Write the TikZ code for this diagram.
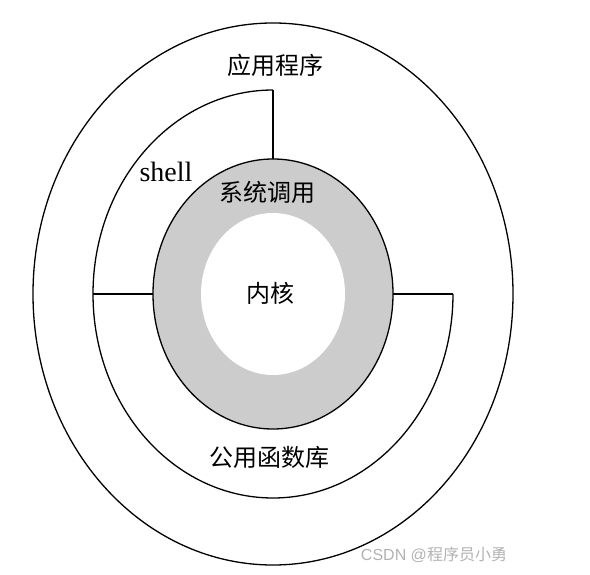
\documentclass[tikz,border=0pt]{standalone}
\usepackage{fontspec}
\newfontfamily\cjk{Noto Sans CJK SC}
\newfontfamily\wmfont{Liberation Sans}
\newfontfamily\shellfont{Liberation Serif}
\usetikzlibrary{shapes.geometric,positioning}
\tikzset{
  ring/.style={draw, black, line width=1.3pt},
  layer/.style={ellipse, ring, inner sep=0pt, outer sep=0pt},
}

\begin{document}
\begin{tikzpicture}[x=1pt,y=1pt,
            layername/.style={font=\cjk\fontsize{24}{28}\selectfont, inner sep=0pt},
            shellname/.style={font=\shellfont\fontsize{28}{32}\selectfont, inner sep=0pt, anchor=base}]
            \useasboundingbox (0,0) rectangle (590,574);
            \coordinate (centre) at (273,280);

            % outer ring: applications
            \node[layer, minimum width=480pt, minimum height=542pt] (apps) at (centre) {};
            % system calls and kernel
            \node[layer, fill=gray!40, minimum width=240pt, minimum height=270pt] (syscall) at (centre) {};
            \node[ellipse, fill=white, inner sep=0pt, minimum width=144pt, minimum height=162pt] (kernel) at (centre) {};

            % shell / library ring
            \coordinate (shelltop) at (273,484);
            \coordinate (libleft) at (93,280);
            \coordinate (libright) at (453,280);
            \draw[ring] (shelltop) arc[start angle=90, end angle=360, x radius=180pt, y radius=204pt];
            \draw[ring] (shelltop) -- (syscall.north);
            \draw[ring] (libleft) -- (syscall.west);
            \draw[ring] (syscall.east) -- (libright);

            \node[layername] (appsname) at (275,509) {应用程序};
            \node[shellname] (shell) at (166,392) {shell};
            \node[layername] (syscallname) at (267,382) {系统调用};
            \node[layername] (kernelname) at (270,281) {内核};
            \node[layername] (libname) at (269,117) {公用函数库};
            \node[font=\wmfont\fontsize{16}{18}\selectfont, text=gray!60, inner sep=0pt] (watermark) at (434,19) {CSDN @{\cjk 程序员小勇}};
\end{tikzpicture}
\end{document}
